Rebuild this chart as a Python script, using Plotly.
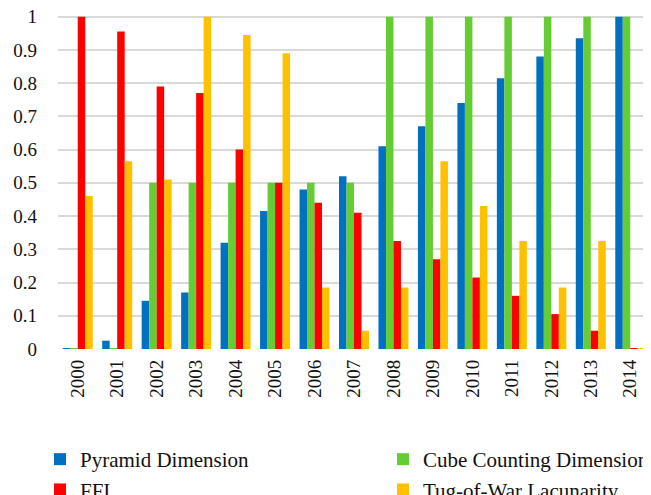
import plotly.graph_objects as go

years = [str(y) for y in range(2000, 2015)]
pyramid = [0.003, 0.025, 0.145, 0.17, 0.32, 0.415, 0.48, 0.52, 0.61, 0.67, 0.74, 0.815, 0.88, 0.935, 1.0]
cube = [0.003, 0.002, 0.5, 0.5, 0.5, 0.5, 0.5, 0.5, 1.0, 1.0, 1.0, 1.0, 1.0, 1.0, 1.0]
ffi = [1.0, 0.955, 0.79, 0.77, 0.60, 0.50, 0.44, 0.41, 0.325, 0.27, 0.215, 0.16, 0.105, 0.055, 0.003]
tug = [0.46, 0.565, 0.51, 1.0, 0.945, 0.89, 0.185, 0.055, 0.185, 0.565, 0.43, 0.325, 0.185, 0.325, 0.003]

series = [
    ("Pyramid Dimension", pyramid, "#0070C0", "legend"),
    ("Cube Counting Dimension", cube, "#66CC33", "legend2"),
    ("FFI", ffi, "#FF0000", "legend"),
    ("Tug-of-War Lacunarity", tug, "#FFC000", "legend2"),
]

font = "Liberation Serif, Times New Roman, serif"
W, H = 651, 520
Y0, Y1 = 341, 9          # figure pixel rows of value 0 and value 1
YTOP = 1.02
fig = go.Figure()
for name, vals, col, lg in series:
    fig.add_trace(go.Bar(x=years, y=vals, name=name, legend=lg,
                         marker=dict(color=col, line=dict(width=0))))

leg_common = dict(orientation="v", xref="container", yref="container",
                  yanchor="top", xanchor="left", y=1 - 431 / H,
                  font=dict(size=21, family=font, color="#111111"),
                  traceorder="normal", bgcolor="rgba(0,0,0,0)")

unit = Y0 - Y1
fig.update_layout(
    width=W, height=H,
    margin=dict(l=50, r=8.5, t=Y1 - (YTOP - 1) * unit, b=H - Y0, autoexpand=False),
    paper_bgcolor="white", plot_bgcolor="white",
    barmode="group", bargap=0.24, bargroupgap=0,
    font=dict(family=font, size=19, color="#111111"),
    legend=dict(x=32 / W, **leg_common),
    legend2=dict(x=375 / W, **leg_common),
)
fig.update_yaxes(
    range=[0, YTOP], tickvals=[i / 10 for i in range(11)],
    ticktext=["0", "0.1", "0.2", "0.3", "0.4", "0.5", "0.6", "0.7", "0.8", "0.9", "1"],
    tickfont=dict(family=font, size=19, color="#111111"),
    showgrid=True, gridcolor="#d9d9d9", gridwidth=2, zeroline=False,
    showline=False, ticks="", ticklabelstandoff=20, ticklabeloverflow="allow",
)
fig.update_xaxes(
    tickangle=-90, showline=False, ticks="", showgrid=False,
    tickfont=dict(family=font, size=19, color="#111111"),
    ticklabelstandoff=6, ticklabeloverflow="allow",
)
fig.write_html("out.html")
